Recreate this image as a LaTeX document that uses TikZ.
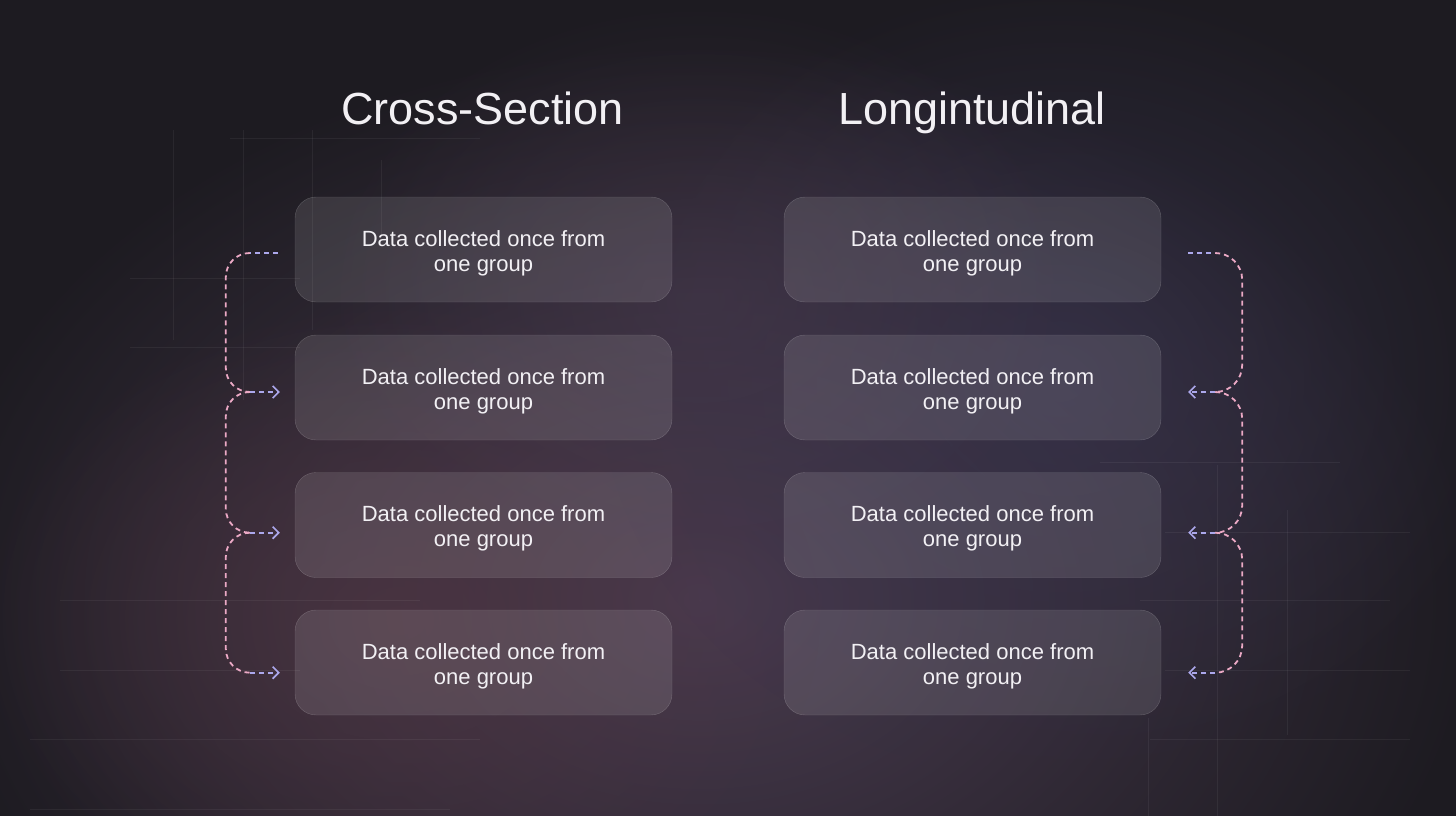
\documentclass[tikz,border=0pt]{standalone}
\usepackage{fontspec}
\setmainfont{Liberation Sans}
\usetikzlibrary{arrows.meta,fadings,calc}
\tikzfading[name=glowfade, inner color=transparent!0, outer color=transparent!100]
\definecolor{bgbase}{HTML}{1D1B21}
\definecolor{glowA}{HTML}{4A3C50}
\definecolor{glowB}{HTML}{4D3542}
\definecolor{glowC}{HTML}{38344E}
\definecolor{textc}{HTML}{F2F0F4}
\definecolor{pinkc}{HTML}{EBA9C5}
\definecolor{lavc}{HTML}{ACA8EC}
\newcommand\cardlines[2]{\raisebox{-4pt}[\height][\depth]{\begin{tabular}{@{}c@{}}#1\\#2\end{tabular}}}
\tikzset{
  card/.style={draw=white, draw opacity=0.2, fill=white, fill opacity=0.11, text opacity=1,
    rounded corners=21pt, minimum width=377pt, minimum height=105pt, inner sep=0pt,
    text=textc, font=\fontsize{22}{25}\selectfont},
  title/.style={text=textc, font=\fontsize{45}{48}\selectfont, anchor=base, inner sep=0pt},
  grid/.style={white, opacity=0.055, line width=1pt},
  conn/.style={line width=1.8pt, dash pattern=on 5pt off 4pt},
  pinkline/.style={conn, pinkc},
  lavline/.style={conn, lavc},
  lavarrow/.style={conn, lavc, -{Straight Barb[length=6pt,width=12pt,line width=1.6pt]}},
}
\begin{document}
\begin{tikzpicture}[x=1pt,y=-1pt]
\useasboundingbox (0,0) rectangle (1456,816);
% background
\fill[bgbase] (0,0) rectangle (1456,816);
\fill[glowA, path fading=glowfade] (700,600) ellipse [x radius=780, y radius=560];
\fill[glowB, path fading=glowfade, opacity=0.8] (400,620) ellipse [x radius=420, y radius=320];
\fill[glowC, path fading=glowfade, opacity=0.7] (1060,380) ellipse [x radius=460, y radius=400];
\fill[glowA, path fading=glowfade, opacity=0.5] (700,300) ellipse [x radius=380, y radius=300];
% faint grid lines
\draw[grid] (230,138) -- (480,138);
\draw[grid] (130,278) -- (300,278);
\draw[grid] (130,347) -- (300,347);
\draw[grid] (173,130) -- (173,340);
\draw[grid] (243,130) -- (243,400);
\draw[grid] (312,130) -- (312,330);
\draw[grid] (381,160) -- (381,235);
\draw[grid] (60,600) -- (420,600);
\draw[grid] (60,670) -- (300,670);
\draw[grid] (30,739) -- (480,739);
\draw[grid] (30,809) -- (450,809);
\draw[grid] (1100,462) -- (1340,462);
\draw[grid] (1165,532) -- (1410,532);
\draw[grid] (1140,600) -- (1390,600);
\draw[grid] (1165,670) -- (1410,670);
\draw[grid] (1150,739) -- (1410,739);
\draw[grid] (1148,718) -- (1148,816);
\draw[grid] (1217,465) -- (1217,816);
\draw[grid] (1287,510) -- (1287,735);
% titles
\node[title] (TL) at (482.5,124) {Cross-Section};
\node[title] (TR) at (972,124) {Longintudinal};
% cards
\foreach \n/\y in {1/249.5, 2/387.5, 3/525, 4/662.5}{
  \node[card] (L\n) at (483.5,\y) {\cardlines{Data collected once from}{one group}};
  \node[card] (R\n) at (972.5,\y) {\cardlines{Data collected once from}{one group}};
}
% left connectors
\coordinate (ls) at ($(L1.west)+(-17,3.5)$);
\coordinate (lj0) at ($(L1.west)+(-45,3.5)$);
\coordinate (lj1) at ($(L2.west)+(-45,4.5)$);
\coordinate (lj2) at ($(L3.west)+(-45,7.7)$);
\coordinate (lj3) at ($(L4.west)+(-45,10.2)$);
\coordinate (le1) at ($(L2.west)+(-15,4.5)$);
\coordinate (le2) at ($(L3.west)+(-15,7.7)$);
\coordinate (le3) at ($(L4.west)+(-15,10.2)$);
\draw[lavline] (ls) -- (lj0);
\draw[pinkline, rounded corners=24pt] (lj0) -- ++(-24,0) |- (lj1);
\draw[pinkline, rounded corners=24pt] (lj1) -- ++(-24,0) |- (lj2);
\draw[pinkline, rounded corners=24pt] (lj2) -- ++(-24,0) |- (lj3);
\draw[lavarrow] (lj1) -- (le1);
\draw[lavarrow] (lj2) -- (le2);
\draw[lavarrow] (lj3) -- (le3);
% right connectors
\coordinate (rs) at ($(R1.east)+(27,3.5)$);
\coordinate (rj0) at ($(R1.east)+(54,3.5)$);
\coordinate (rj1) at ($(R2.east)+(54,4.5)$);
\coordinate (rj2) at ($(R3.east)+(54,7.7)$);
\coordinate (rj3) at ($(R4.east)+(54,10.2)$);
\coordinate (re1) at ($(R2.east)+(27,4.5)$);
\coordinate (re2) at ($(R3.east)+(27,7.7)$);
\coordinate (re3) at ($(R4.east)+(27,10.2)$);
\draw[lavline] (rs) -- (rj0);
\draw[pinkline, rounded corners=27pt] (rj0) -- ++(27,0) |- (rj1);
\draw[pinkline, rounded corners=27pt] (rj1) -- ++(27,0) |- (rj2);
\draw[pinkline, rounded corners=27pt] (rj2) -- ++(27,0) |- (rj3);
\draw[lavarrow] (rj1) -- (re1);
\draw[lavarrow] (rj2) -- (re2);
\draw[lavarrow] (rj3) -- (re3);
\end{tikzpicture}
\end{document}
